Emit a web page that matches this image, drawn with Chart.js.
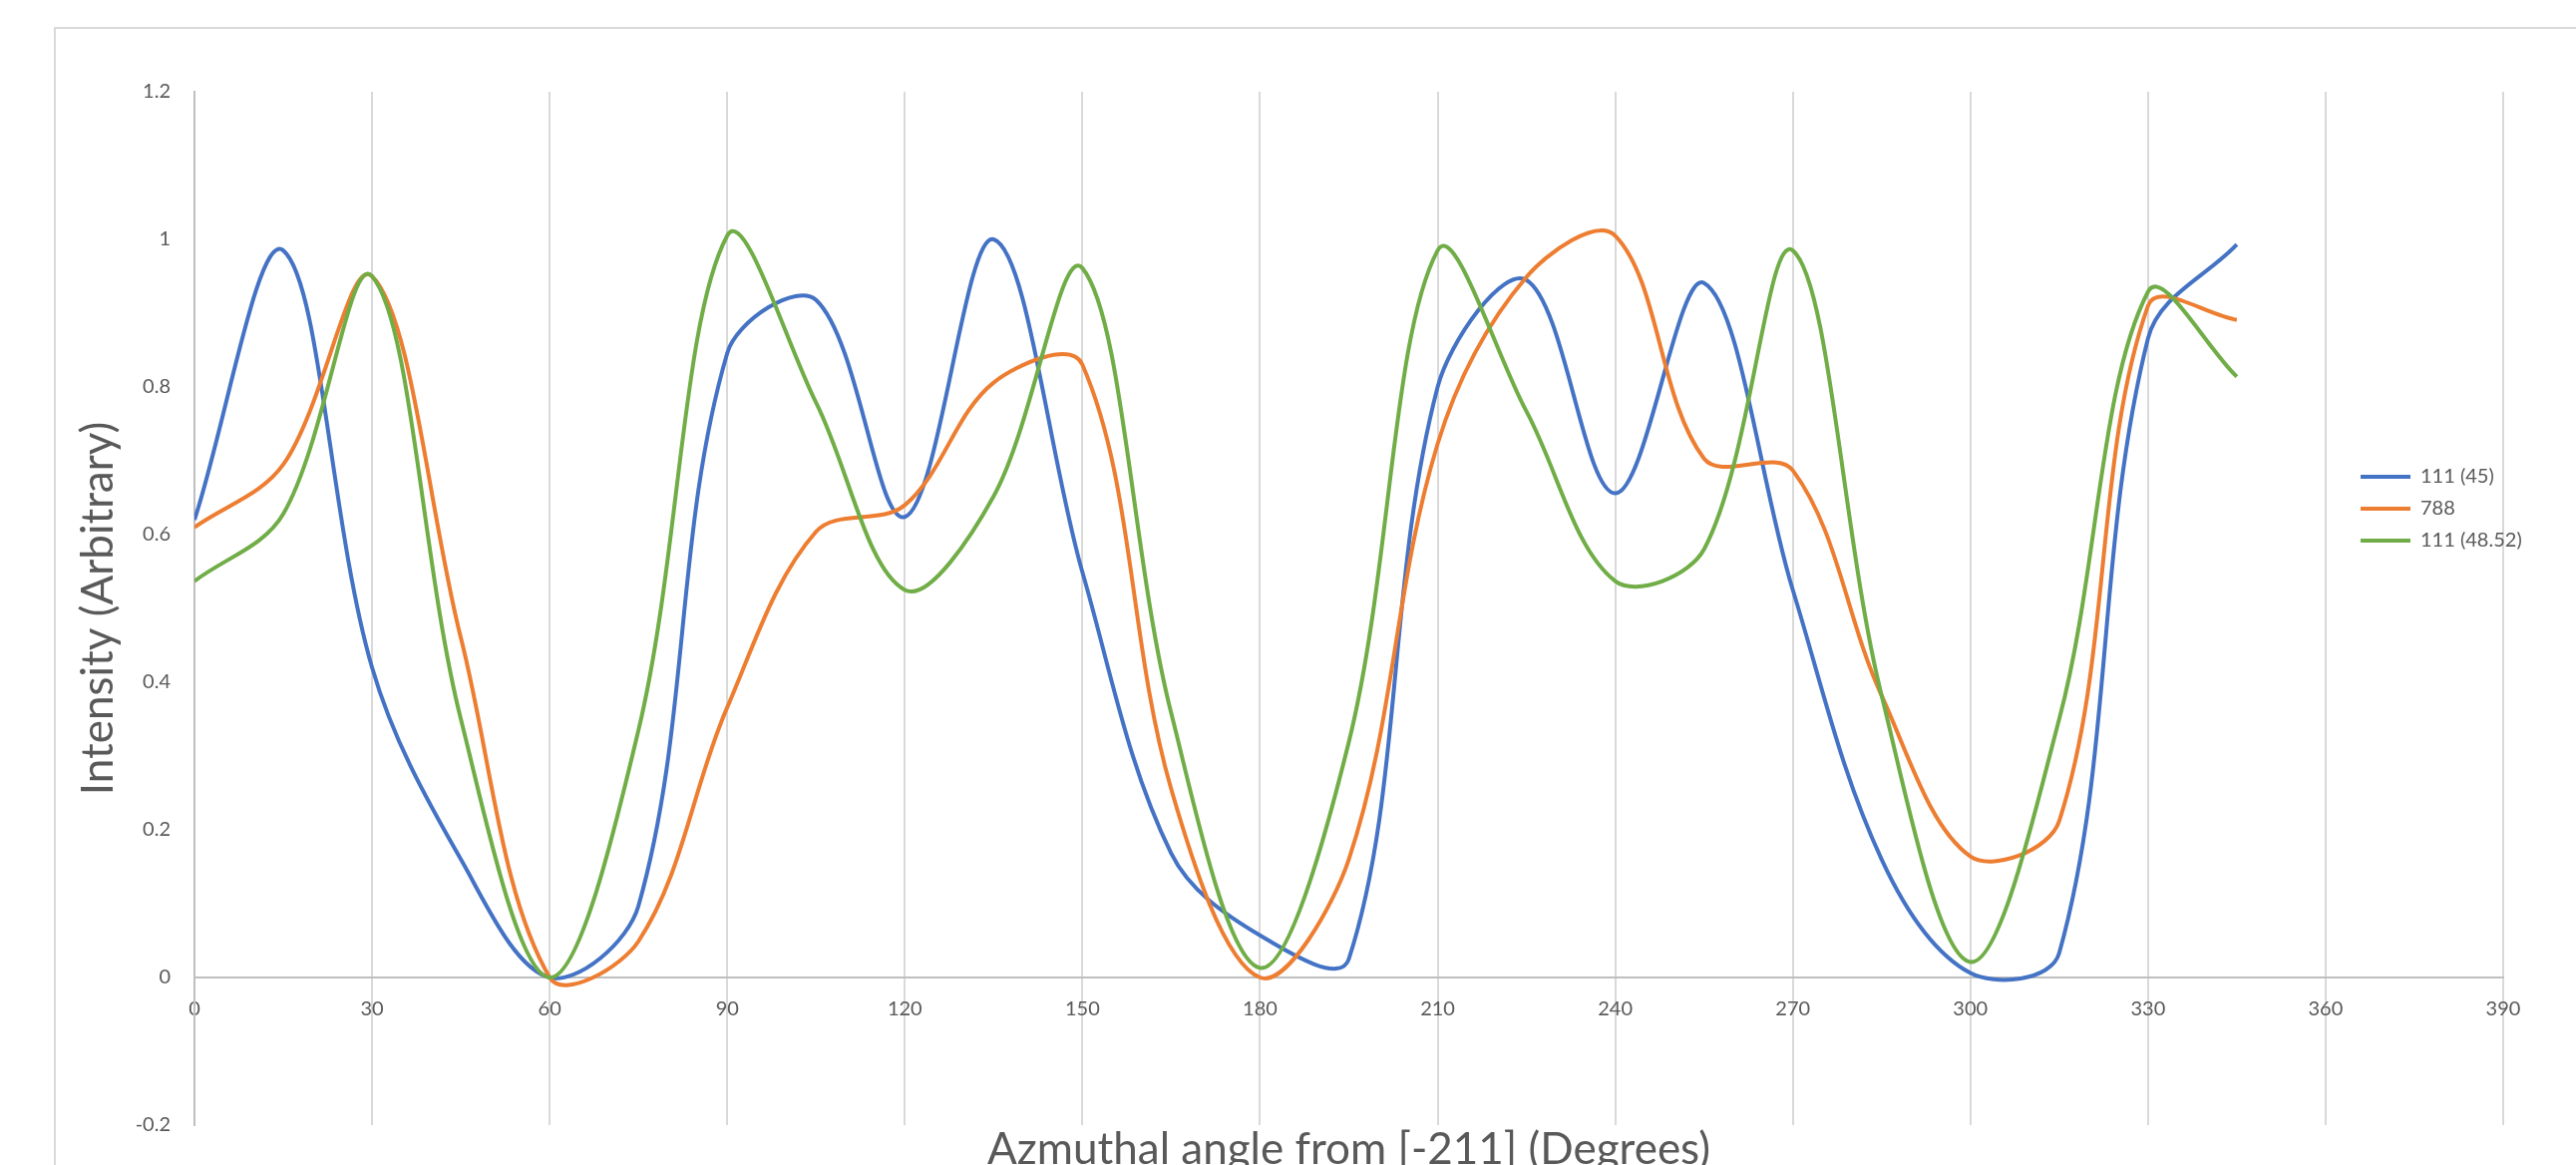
<!DOCTYPE html>
<html lang="en">
  <head>
    <meta charset="UTF-8" />
    <meta name="viewport" content="width=device-width, initial-scale=1.0" />
    <title>Azimuthal intensity</title>
    <script src="https://cdn.jsdelivr.net/npm/chart.js"></script>
    <style>
      html,
      body {
        margin: 0;
        padding: 0;
        background: #ffffff;
        overflow: hidden;
      }
      .chart-box {
        position: relative;
        width: 2583px;
        height: 1200px;
      }
      .frame {
        position: absolute;
        left: 54px;
        top: 27px;
        width: 2600px;
        height: 1250px;
        border: 2px solid #d9d9d9;
        box-sizing: border-box;
      }
      canvas {
        position: relative;
        z-index: 1;
      }
    </style>
  </head>
  <body>
    <div class="chart-box">
      <div class="frame"></div>
      <canvas id="intensityChart"></canvas>
    </div>
  </body>
</html>

<script>
  // angles (degrees) where the intensity was measured
  const angles = [0, 15, 30, 45, 60, 75, 90, 105, 120, 135, 150, 165, 180, 195, 210, 225, 240, 255, 270, 285, 300, 315, 330, 345];

  // series values
  const s111_45 = [0.62, 0.985, 0.42, 0.16, 0.0, 0.097, 0.846, 0.918, 0.624, 1.0, 0.549, 0.168, 0.057, 0.025, 0.8, 0.945, 0.656, 0.941, 0.525, 0.16, 0.006, 0.033, 0.866, 0.993];
  const s788 = [0.61, 0.695, 0.95, 0.46, 0.0, 0.049, 0.366, 0.604, 0.64, 0.806, 0.83, 0.255, 0.0, 0.16, 0.723, 0.949, 1.005, 0.703, 0.687, 0.382, 0.164, 0.212, 0.91, 0.891];
  const s111_4852 = [0.537, 0.628, 0.95, 0.35, 0.0, 0.335, 1.005, 0.779, 0.525, 0.652, 0.961, 0.358, 0.013, 0.319, 0.985, 0.767, 0.537, 0.58, 0.985, 0.382, 0.021, 0.35, 0.929, 0.814];

  const seriesNames = ["111 (45)", "788", "111 (48.52)"];

  // tick labels
  const xTicks = [0, 30, 60, 90, 120, 150, 180, 210, 240, 270, 300, 330, 360, 390];
  const yTicks = [-0.2, 0, 0.2, 0.4, 0.6, 0.8, 1, 1.2];

  function points(values) {
    return angles.map((a, i) => ({ x: a, y: values[i] }));
  }

  function setTicks(list) {
    return (scale) => {
      scale.ticks = list.map((v) => ({ value: v }));
    };
  }

  Chart.defaults.font.family = "Lato, 'Open Sans', sans-serif";
  Chart.defaults.color = "#595959";

  // legend sits inside the plot, right of the 360 line
  const legendSpot = {
    id: "legendSpot",
    afterLayout(chart) {
      const lg = chart.legend;
      const w = lg.width + 20;
      const h = lg.height;
      lg.left = 2355;
      lg.right = lg.left + w;
      lg.top = 456;
      lg.bottom = lg.top + h;
    },
  };

  var ctx = document.getElementById("intensityChart").getContext("2d");
  let intensityChart = new Chart(ctx, {
    type: "line",
    data: {
      datasets: [
        {
          label: seriesNames[0],
          data: points(s111_45),
          borderColor: "#4472C4",
          backgroundColor: "#4472C4",
          order: 3,
        },
        {
          label: seriesNames[1],
          data: points(s788),
          borderColor: "#ED7D31",
          backgroundColor: "#ED7D31",
          order: 2,
        },
        {
          label: seriesNames[2],
          data: points(s111_4852),
          borderColor: "#70AD47",
          backgroundColor: "#70AD47",
          order: 1,
        },
      ],
    },
    options: {
      responsive: true,
      maintainAspectRatio: false,
      animation: false,
      events: [],
      datasets: {
        line: {
          borderWidth: 4,
          pointRadius: 0,
          tension: 0.35,
          fill: false,
          xAxisID: "x",
          yAxisID: "y",
        },
      },
      layout: {
        padding: { left: 50, top: 92, right: 73, bottom: 0 },
      },
      plugins: {
        tooltip: { enabled: false },
        legend: {
          position: "chartArea",
          align: "start",
          labels: {
            usePointStyle: true,
            pointStyle: "line",
            pointStyleWidth: 50,
            padding: 12,
            color: "#595959",
            font: { size: 20 },
            sort: (a, b) => a.datasetIndex - b.datasetIndex,
          },
        },
      },
      scales: {
        // axis line and numbers sitting on y = 0
        x: {
          type: "linear",
          position: { y: 0 },
          min: xTicks[0],
          max: xTicks[xTicks.length - 1],
          afterBuildTicks: setTicks(xTicks),
          grid: { display: false, drawTicks: false },
          border: { display: true, color: "#bfbfbf", width: 2 },
          ticks: {
            font: { size: 20 },
            color: "#595959",
            padding: 20,
            maxRotation: 0,
            autoSkip: false,
          },
        },
        // vertical grid lines and the axis title at the bottom
        x2: {
          type: "linear",
          axis: "x",
          position: "bottom",
          min: xTicks[0],
          max: xTicks[xTicks.length - 1],
          afterBuildTicks: setTicks(xTicks),
          afterFit: (scale) => {
            scale.height = 72;
          },
          grid: { color: "#d9d9d9", lineWidth: 2, drawTicks: false },
          border: { display: false },
          ticks: { display: false },
          title: {
            display: true,
            text: "Azmuthal angle from [-211] (Degrees)",
            color: "#595959",
            font: { size: 44 },
            padding: { top: 0, bottom: 21 },
          },
        },
        y: {
          type: "linear",
          min: yTicks[0],
          max: yTicks[yTicks.length - 1],
          afterBuildTicks: setTicks(yTicks),
          afterFit: (scale) => {
            scale.width = 145;
          },
          grid: { display: false, drawTicks: false },
          border: { display: true, color: "#bfbfbf", width: 2 },
          ticks: {
            font: { size: 20 },
            color: "#595959",
            padding: 24,
            callback: (v) => String(Math.round(v * 10) / 10),
          },
          title: {
            display: true,
            text: "Intensity (Arbitrary)",
            color: "#595959",
            font: { size: 44 },
            padding: { top: 22, bottom: 0 },
          },
        },
      },
    },
    plugins: [legendSpot],
  });
</script>
